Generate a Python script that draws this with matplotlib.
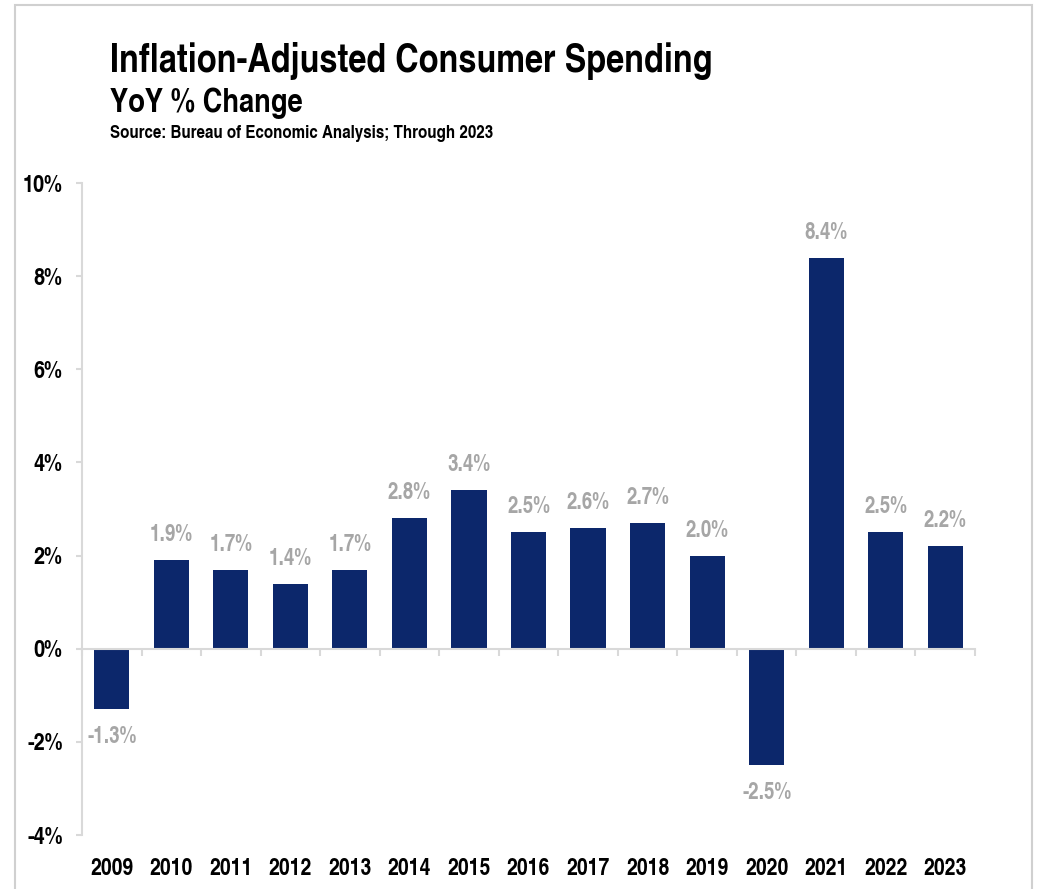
import matplotlib
matplotlib.use("Agg")
import matplotlib.pyplot as plt
import matplotlib.transforms as mtransforms
from matplotlib.patches import Rectangle

years = ["2009", "2010", "2011", "2012", "2013", "2014", "2015", "2016",
         "2017", "2018", "2019", "2020", "2021", "2022", "2023"]
values = [-1.3, 1.9, 1.7, 1.4, 1.7, 2.8, 3.4, 2.5, 2.6, 2.7, 2.0, -2.5, 8.4, 2.5, 2.2]
yticks = [-4, -2, 0, 2, 4, 6, 8, 10]

cond = ["TeX Gyre Heros Cn", "DejaVu Sans"]

BAR = "#0c276b"
GRAY_AX = "#d9d9d9"
LBL = "#a6a6a6"

fig = plt.figure(figsize=(10.38, 8.89), dpi=100)
fig.patches.append(Rectangle((15/1038, -0.05), (1032-15)/1038, 1.05 - 5/889,
                             transform=fig.transFigure, fill=False,
                             edgecolor="#d0d0d0", linewidth=1.5))

ax = fig.add_axes([82/1038, 1-835/889, (975-82)/1038, (835-183)/889])
x = list(range(len(years)))
ax.bar(x, values, width=0.59, color=BAR, zorder=2)
ax.set_xlim(-0.5, len(years) - 0.5)
ax.set_ylim(-4, 10)

for s in ["top", "right"]:
    ax.spines[s].set_visible(False)
ax.spines["bottom"].set_position(("data", 0))
ax.spines["bottom"].set_color(GRAY_AX)
ax.spines["bottom"].set_linewidth(1.5)
ax.spines["left"].set_color(GRAY_AX)
ax.spines["left"].set_linewidth(1.5)

ax.set_yticks(yticks)
ax.set_yticklabels([f"{v}%" for v in yticks], fontfamily=cond, fontweight="bold",
                   fontsize=17.5, color="black")
ax.tick_params(axis="y", direction="out", length=4, width=1.5, color=GRAY_AX, pad=10)

ax.set_xticks([i - 0.5 for i in range(len(years) + 1)])
ax.set_xticklabels([])
ax.tick_params(axis="x", direction="out", length=5, width=1.5, color=GRAY_AX)

trans = mtransforms.blended_transform_factory(ax.transData, ax.transAxes)
for i, yr in enumerate(years):
    ax.text(i, -0.0515, yr, transform=trans, ha="center", va="center",
            fontfamily=cond, fontweight="bold", fontsize=17, color="black")

for i, v in enumerate(values):
    off = 18 if v >= 0 else -20
    ax.annotate(f"{v:.1f}%", (i, v), xytext=(0, off), textcoords="offset points",
                ha="center", va="center", fontfamily=cond, fontweight="bold",
                fontsize=16.5, color=LBL)

fig.text(110/1038, 1-61/889, "Inflation-Adjusted Consumer Spending", fontfamily=cond,
         fontweight="bold", fontsize=28.5, va="center", ha="left", color="black")
fig.text(110/1038, 1-103/889, "YoY % Change", fontfamily=cond,
         fontweight="bold", fontsize=24, va="center", ha="left", color="black")
fig.text(110/1038, 1-133/889, "Source: Bureau of Economic Analysis; Through 2023", fontfamily=cond,
         fontweight="bold", fontsize=13.3, va="center", ha="left", color="black")

fig.savefig("out.png", dpi=100)
